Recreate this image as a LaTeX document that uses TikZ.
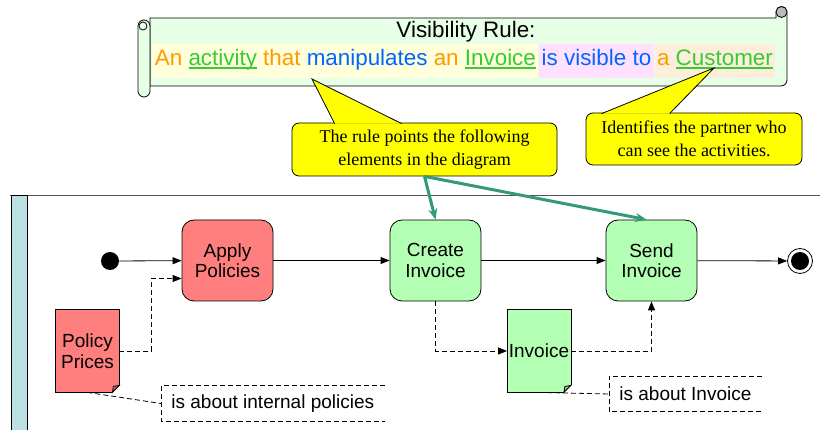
\documentclass[tikz,border=0pt]{standalone}
\usepackage{fontspec}
\setmainfont{Liberation Sans}
\newfontfamily\bubblefont{Liberation Serif}
\usetikzlibrary{positioning,
  arrows.meta
}
\definecolor{scrollfill}{HTML}{E6FFE6}
\definecolor{curlgray}{HTML}{B4BEB4}
\definecolor{bandyellow}{HTML}{FFFFDC}
\definecolor{bandpink}{HTML}{FFE1FF}
\definecolor{bandpeach}{HTML}{FDEEDC}
\definecolor{ruleorange}{HTML}{FF9900}
\definecolor{ruleblue}{HTML}{0066FF}
\definecolor{termgreen}{HTML}{33CC33}
\definecolor{bubbleyellow}{HTML}{FFFF00}
\definecolor{policyred}{HTML}{FF7F7F}
\definecolor{invoicegreen}{HTML}{B3FFB3}
\definecolor{laneblue}{HTML}{BBE0E3}
\definecolor{lanegray}{HTML}{555555}
\definecolor{rulegreen}{HTML}{339977}

\newcommand\term[1]{\textcolor{termgreen}{\setbox0\hbox{#1}\rlap{\rule[-3.2pt]{\wd0}{1.6pt}}\box0}}
\newcommand\docfold[2]{%
  \fill[white] ([yshift=7pt]#1.south east) -- (#1.south east) -- ([xshift=-7pt]#1.south east) -- cycle;
  \draw ([xshift=-7pt]#1.south east) -- (#1.south west) -- (#1.north west) -- (#1.north east) -- ([yshift=7pt]#1.south east);
  \draw[fill=#2] ([yshift=7pt]#1.south east) -- ([xshift=-7pt]#1.south east) -- ([xshift=-6pt,yshift=6pt]#1.south east) -- cycle;
}

\begin{document}
\begin{tikzpicture}[x=1pt, y=-1pt, line width=0.8pt,
  activity/.style={rectangle, rounded corners=12pt, draw, minimum width=91pt, minimum height=81pt,
    inner sep=0pt, align=center, font=\fontsize{19}{20.5}\selectfont},
  docnode/.style={rectangle, minimum width=63pt, minimum height=82pt, inner sep=0pt,
    align=center, font=\fontsize{19}{21}\selectfont},
  notebox/.style={rectangle, minimum height=35pt, inner xsep=10pt, font=\fontsize{19}{21}\selectfont},
  bubble/.style={rectangle, rounded corners=7pt, draw, fill=bubbleyellow, align=center,
    font=\bubblefont\fontsize{18}{23}\selectfont},
  band/.style={rectangle, inner xsep=2.5pt, inner ysep=0pt, minimum height=34pt,
    font=\fontsize{22.4}{24}\selectfont},
  flow/.style={-{Triangle[length=9pt,width=7pt]}},
  dataflow/.style={dash pattern=on 5pt off 3pt, -{Triangle[length=9pt,width=7pt]}},
  notelink/.style={dash pattern=on 5pt off 3pt},
  rulelink/.style={draw=rulegreen, line width=3pt, -{Stealth[length=11pt,width=9pt]}}]

  \useasboundingbox (0,0) rectangle (820,430);

  % scroll
  \draw[fill=scrollfill] (150,18) -- (776,18) -- (776,12) arc[start angle=180, end angle=0, radius=5.5pt]
    -- (787,80) arc[start angle=0, end angle=-90, radius=6pt] -- (150,86) -- cycle;
  \draw[fill=curlgray] (781.5,12) circle[radius=5.5pt];
  \draw[fill=scrollfill] (138,26) -- (138,91) arc[start angle=180, end angle=360, radius=6pt]
    -- (150,26) arc[start angle=0, end angle=180, radius=6pt] -- cycle;
  \draw[fill=scrollfill] (143,26) circle[radius=4pt];

  \node[font=\fontsize{22.4}{24}\selectfont] (title) at (466,32) {Visibility Rule:};
  \node[band, fill=bandyellow, anchor=west] (band1) at (152,61)
    {\strut\textcolor{ruleorange}{An} \term{activity} \textcolor{ruleorange}{that}
     \textcolor{ruleblue}{manipulates} \textcolor{ruleorange}{an} \term{Invoice}};
  \node[band, fill=bandpink, right=0pt of band1] (band2) {\strut\textcolor{ruleblue}{is visible to}};
  \node[band, fill=bandpeach, right=0pt of band2] (band3) {\strut\textcolor{ruleorange}{a} \term{Customer}};

  % swimlane
  \draw[lanegray] (10,195) -- (820,195);
  \draw[fill=laneblue] (11,195) rectangle (27,431);

  % activities
  \node[circle, fill, minimum size=18pt, inner sep=0pt] (start) at (110,261) {};
  \node[activity, fill=policyred] (apply) at (227.5,260.5) {Apply\\Policies};
  \node[activity, fill=invoicegreen] (create) at (435.5,260.5) {Create\\Invoice};
  \node[activity, fill=invoicegreen] (send) at (651.5,260.5) {Send\\Invoice};
  \node[circle, draw, fill=white, minimum size=25pt, inner sep=0pt] (end) at (800,261) {};
  \node[circle, fill, minimum size=18pt, inner sep=0pt] (endcore) at (end) {};

  % documents
  \node[docnode, fill=policyred] (prices) at (87.5,351) {Policy\\Prices};
  \docfold{prices}{policyred!80!black}
  \node[docnode, fill=invoicegreen] (invdoc) at (539,351) {Invoice};
  \docfold{invdoc}{invoicegreen!75!black}

  % notes
  \node[notebox, anchor=west] (aboutprices) at (161,403.5) {is about internal policies};
  \draw[notelink] (aboutprices.north east) -- (aboutprices.north west) -- (aboutprices.south west) -- (aboutprices.south east);
  \node[notebox, anchor=west] (aboutinv) at (609,394) {is about Invoice};
  \draw[notelink] (aboutinv.north east) -- (aboutinv.north west) -- (aboutinv.south west) -- (aboutinv.south east);

  \draw[flow] (start) -- (apply);
  \draw[flow] (apply) -- (create);
  \draw[flow] (create) -- (send);
  \draw[flow] (send) -- (end);
  \draw[dataflow] (prices.east) -- ++(32,0) |- ([yshift=-18pt]apply.west);
  \draw[dataflow] (create.south) |- (invdoc.west);
  \draw[dataflow] (invdoc.east) -| (send.south);
  \draw[notelink] (prices.south) -- (aboutprices.west);
  \draw[notelink] (invdoc.south) -- (aboutinv.west);

  % callouts
  \node[bubble, minimum width=265pt, minimum height=53pt] (rulenote) at (424.5,149.5)
    {The rule points the following\\elements in the diagram};
  \coordinate (ruletip) at (312,79);
  \draw[fill=bubbleyellow] ([xshift=43pt,yshift=-1pt]rulenote.north west) -- (ruletip)
    -- ([xshift=110pt,yshift=-1pt]rulenote.north west);
  \node[bubble, minimum width=216pt, minimum height=52pt] (partnernote) at (694,139)
    {Identifies the partner who\\can see the activities.};
  \coordinate (partnertip) at (714,68);
  \draw[fill=bubbleyellow] ([xshift=16pt,yshift=-1pt]partnernote.north west) -- (partnertip)
    -- ([xshift=84pt,yshift=-1pt]partnernote.north west);

  \draw[rulelink] (rulenote.south) -- (create.north);
  \draw[rulelink] (rulenote.south) -- ([xshift=-5pt]send.north);

\end{tikzpicture}
\end{document}
